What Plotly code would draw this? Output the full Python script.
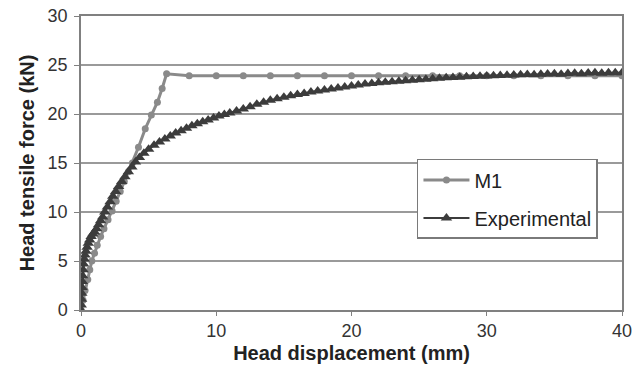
import plotly.graph_objects as go

# M1 model curve
m1_x = [0, 0.15, 0.3, 0.5, 0.65, 0.8, 1.0, 1.2, 1.45, 1.7, 2.0, 2.3, 2.6, 2.9, 3.2, 3.5, 3.8,
        4.25, 4.75, 5.2, 5.65, 6.0, 6.33,
        8, 10, 12, 14, 16, 18, 20, 22, 24, 26, 28, 30, 32, 34, 36, 38, 40]
m1_y = [0, 1.0, 2.0, 3.1, 4.1, 5.0, 5.8, 6.6, 7.5, 8.3, 9.2, 10.1, 11.1, 12.1, 13.1, 14.1, 15.0,
        16.6, 18.5, 19.9, 21.2, 22.6, 24.1,
        23.9, 23.9, 23.9, 23.9, 23.9, 23.9, 23.9, 23.9, 23.9, 23.9, 23.9, 23.9, 23.9, 23.9, 23.9, 23.9, 23.9]

# Experimental curve
exp_x = [0, 0.02, 0.04, 0.06, 0.08, 0.1, 0.12, 0.15, 0.19, 0.24, 0.3, 0.37, 0.45, 0.54, 0.64,
         0.75, 0.87, 1.0, 1.15, 1.3, 1.45, 1.6, 1.76, 1.95, 2.15, 2.35, 2.56, 2.78, 3.01, 3.25,
         3.5, 3.76, 4.03, 4.32, 4.65, 5.0, 5.4, 5.8, 6.2, 6.6, 7.0, 7.4, 7.8, 8.2, 8.6, 9.0,
         9.4, 9.8, 10.2, 10.6, 11.0, 11.5, 12.0, 12.5, 13.0, 13.5, 14.0, 14.5, 15.0, 15.5,
         16.0, 16.5, 17.0, 17.5, 18.0, 18.5, 19.0, 19.5, 20.0, 20.5, 21.0, 21.5, 22.0, 22.5,
         23.0, 23.5, 24.0, 24.5, 25.0, 25.5, 26.0, 26.5, 27.0, 27.5, 28.0, 28.5, 29.0, 29.5,
         30.0, 30.5, 31.0, 31.5, 32.0, 32.5, 33.0, 33.5, 34.0, 34.5, 35.0, 35.5, 36.0, 36.5,
         37.0, 37.5, 38.0, 38.5, 39.0, 39.5, 40.0]
exp_y = [0, 0.5, 1.1, 1.7, 2.3, 2.9, 3.5, 4.1, 4.7, 5.2, 5.6, 6.0, 6.4, 6.8, 7.15,
         7.5, 7.75, 7.95, 8.3, 8.7, 9.1, 9.5, 10.0, 10.5, 11.05, 11.6, 12.1, 12.6, 13.1, 13.6,
         14.1, 14.6, 15.1, 15.55, 16.0, 16.4, 16.8, 17.15, 17.45, 17.75, 18.05, 18.3, 18.55, 18.8, 19.0, 19.2,
         19.4, 19.6, 19.8, 19.95, 20.1, 20.3, 20.5, 20.75, 21.0, 21.2, 21.4, 21.55, 21.7, 21.85,
         22.0, 22.1, 22.25, 22.35, 22.45, 22.55, 22.65, 22.75, 22.85, 22.95, 23.05, 23.1, 23.2, 23.25,
         23.3, 23.35, 23.4, 23.45, 23.5, 23.55, 23.6, 23.65, 23.7, 23.72, 23.75, 23.8, 23.82, 23.85,
         23.88, 23.9, 23.92, 23.95, 23.97, 24.0, 24.02, 24.0, 24.05, 24.08, 24.1, 24.05, 24.12, 24.15,
         24.1, 24.18, 24.2, 24.15, 24.2, 24.22, 24.2]

x_ticks = [0, 10, 20, 30, 40]
y_ticks = [0, 5, 10, 15, 20, 25, 30]

fig = go.Figure()
fig.add_trace(go.Scatter(
    x=m1_x, y=m1_y, name="M1", mode="lines+markers",
    line=dict(color="#8a8a8a", width=3),
    marker=dict(symbol="circle", size=7, color="#8a8a8a"),
    legendgroup="a",
))
fig.add_trace(go.Scatter(
    x=exp_x, y=exp_y, name="Experimental", mode="lines+markers",
    line=dict(color="#3c3c3c", width=2),
    marker=dict(symbol="triangle-up", size=10, color="#3c3c3c"),
    legendgroup="b",
))

font_family = "Liberation Sans, Arial, sans-serif"
fig.update_layout(
    width=632, height=376,
    margin=dict(l=81, r=10, t=16, b=66),
    paper_bgcolor="white", plot_bgcolor="white",
    font=dict(family=font_family, size=18, color="#333333"),
    showlegend=True,
    legend=dict(
        x=0.621, y=0.514, xanchor="left", yanchor="top",
        bgcolor="white", bordercolor="#7a7a7a", borderwidth=1.5,
        font=dict(size=20, color="#222222"),
        traceorder="grouped", tracegroupgap=9,
        itemwidth=46,
    ),
    xaxis=dict(
        range=[0, 40], tickvals=x_ticks, ticktext=[str(v) for v in x_ticks],
        showgrid=False, zeroline=False, automargin=False, ticklabeloverflow="allow",
        showline=True, linecolor="#808080", linewidth=1.5, mirror=True,
        ticks="outside", ticklen=4, tickcolor="#808080",
        title=dict(text="<b>Head displacement (mm)</b>", font=dict(size=20, color="#222222"), standoff=6),
    ),
    yaxis=dict(
        range=[0, 30], tickvals=y_ticks, ticktext=[str(v) for v in y_ticks],
        showgrid=True, gridcolor="#9a9a9a", gridwidth=1.5, zeroline=False, automargin=False,
        ticklabeloverflow="allow", ticklabelstandoff=3,
        showline=True, linecolor="#808080", linewidth=1.5, mirror=True,
        ticks="outside", ticklen=5, tickcolor="#808080",
        title=dict(text="<b>Head tensile force (kN)</b>", font=dict(size=20, color="#222222"), standoff=8),
    ),
)

# remove the default page margin so the figure fills the window exactly
fig.write_html("out.html", config={"displayModeBar": False},
               post_script="document.body.style.margin='0';")
